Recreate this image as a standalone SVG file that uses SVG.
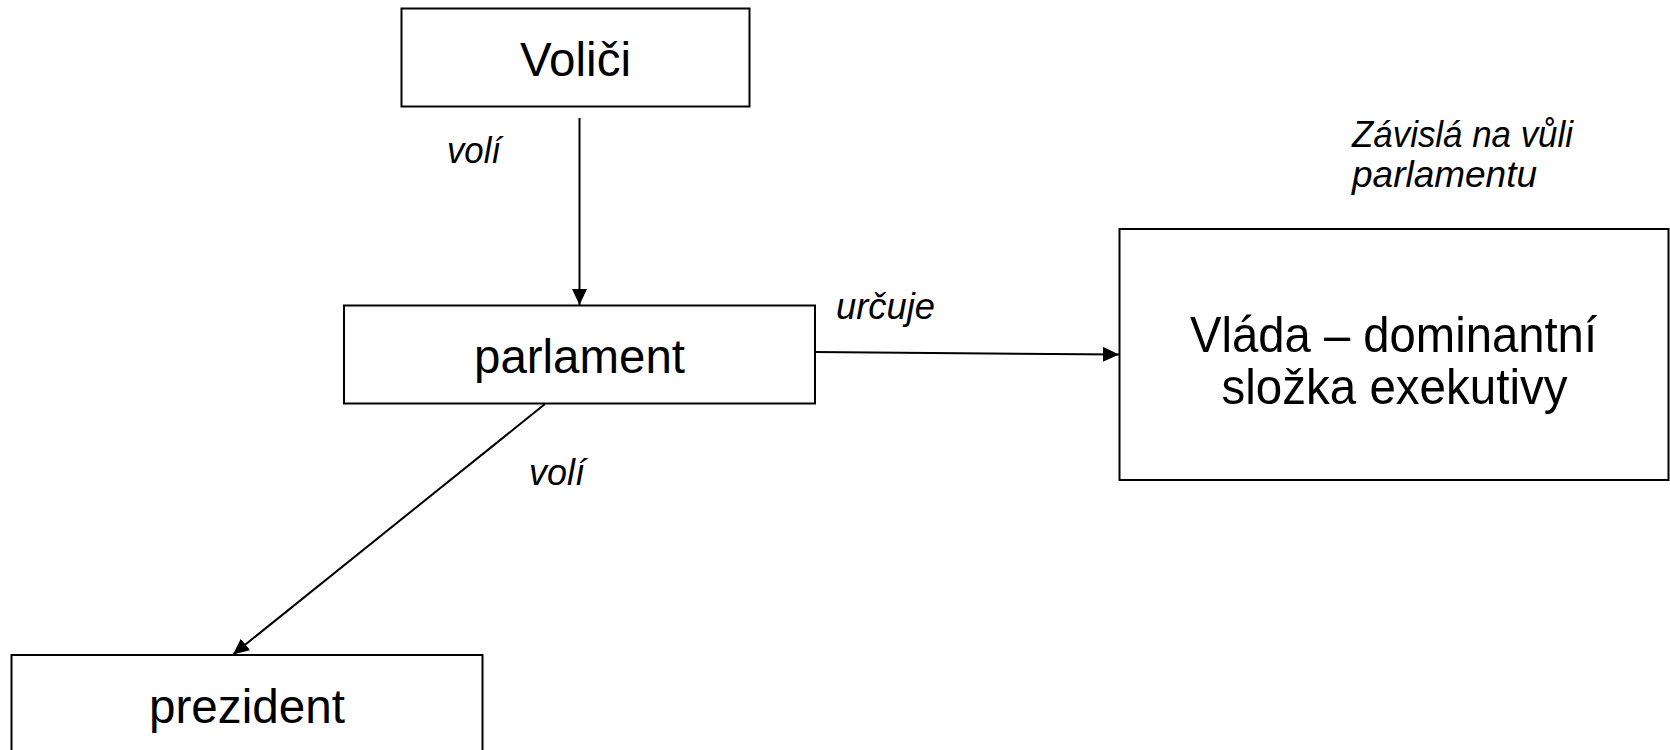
<svg xmlns="http://www.w3.org/2000/svg" width="1670" height="750" viewBox="0 0 1670 750">
<style>
.box{fill:#ffffff;stroke:#000000;stroke-width:2}
.node{font-family:"Liberation Sans",Arial,sans-serif;font-size:48px;fill:#000000;text-anchor:middle}
.lbl{font-family:"Liberation Sans",Arial,sans-serif;font-size:36px;font-style:italic;fill:#000000}
.edge{fill:none;stroke:#000000;stroke-width:2}
</style>
<defs>
<marker id="arr" markerUnits="userSpaceOnUse" markerWidth="17" markerHeight="16" refX="16" refY="7.5" orient="auto">
<path d="M0,0 L16,7.5 L0,15 z" fill="#000000"/>
</marker>
</defs>
<rect x="0" y="0" width="1670" height="750" fill="#ffffff"/>
<g id="connectors">
<line class="edge" x1="579.5" y1="118" x2="579.5" y2="305" marker-end="url(#arr)"/>
<line class="edge" x1="815" y1="352" x2="1119" y2="354.5" marker-end="url(#arr)"/>
<line class="edge" x1="545" y1="404" x2="233" y2="654.5" marker-end="url(#arr)"/>
<text class="lbl" x="447" y="162.5" textLength="54" lengthAdjust="spacingAndGlyphs">volí</text>
<text class="lbl" x="836" y="318.5" textLength="99" lengthAdjust="spacingAndGlyphs">určuje</text>
<text class="lbl" x="529" y="484.5" textLength="56" lengthAdjust="spacingAndGlyphs">volí</text>
</g>
<g id="volici">
<rect class="box" x="401.5" y="8.5" width="348" height="98"/>
<text class="node" x="575.5" y="76" textLength="111" lengthAdjust="spacingAndGlyphs">Voliči</text>
</g>
<g id="parlament">
<rect class="box" x="344" y="305.5" width="471" height="98"/>
<text class="node" x="579.5" y="373" textLength="211" lengthAdjust="spacingAndGlyphs">parlament</text>
</g>
<g id="vlada">
<rect class="box" x="1119.5" y="229" width="549" height="251"/>
<text class="node" x="1393.5" y="351.5" style="font-size:50px" textLength="407" lengthAdjust="spacingAndGlyphs">Vláda – dominantní</text>
<text class="node" x="1394.5" y="403.5" style="font-size:50px" textLength="346" lengthAdjust="spacingAndGlyphs">složka exekutivy</text>
</g>
<g id="zavisla">
<text class="lbl" x="1352" y="146.5" textLength="221" lengthAdjust="spacingAndGlyphs">Závislá na vůli</text>
<text class="lbl" x="1352" y="186.5" textLength="185" lengthAdjust="spacingAndGlyphs">parlamentu</text>
</g>
<g id="prezident">
<rect class="box" x="11.5" y="655" width="471" height="98"/>
<text class="node" x="247" y="722.5" textLength="196" lengthAdjust="spacingAndGlyphs">prezident</text>
</g>
</svg>
